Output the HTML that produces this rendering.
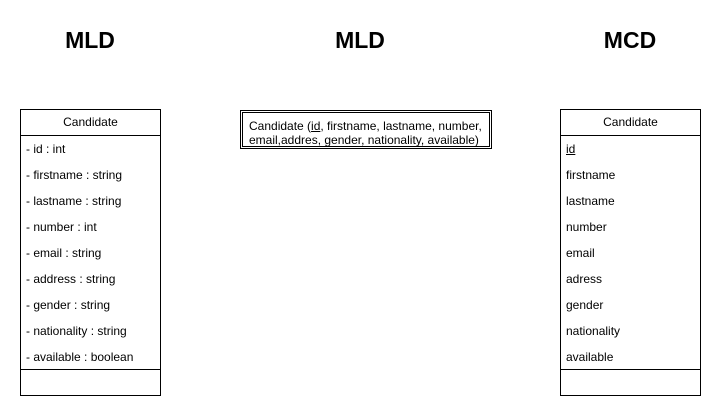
<!DOCTYPE html>
<html><head><style>
body{margin:0;width:718px;height:416px;background:#fff;font-family:"Liberation Sans",sans-serif;position:relative;overflow:hidden}
.t{position:absolute;top:26px;font-size:23px;font-weight:bold;width:140px;text-align:center;line-height:28px}
.box{position:absolute;top:109px;width:141px;height:287px;border:1px solid #000;box-sizing:border-box;font-size:12px}
.hd{height:26px;border-bottom:1px solid #000;text-align:center;line-height:25px;box-sizing:border-box}
.r{height:26px;line-height:26px;padding-left:5px}
.ft{position:absolute;left:0;right:0;top:259px;border-top:1px solid #000}
.m{position:absolute;left:240px;top:110px;width:252px;height:39px;border:1px solid #000;box-sizing:border-box;padding:1px}
.mi{border:1px solid #000;height:100%;box-sizing:border-box;font-size:12px;line-height:14px;padding:6px 0 0 6px;white-space:nowrap}
</style></head><body>
<div class="t" style="left:20px">MLD</div>
<div class="t" style="left:290px">MLD</div>
<div class="t" style="left:560px">MCD</div>
<div class="box" style="left:20px">
<div class="hd">Candidate</div>
<div class="r">- id : int</div><div class="r">- firstname : string</div><div class="r">- lastname : string</div><div class="r">- number : int</div><div class="r">- email : string</div><div class="r">- address : string</div><div class="r">- gender : string</div><div class="r">- nationality : string</div><div class="r">- available : boolean</div>
<div class="ft"></div></div>
<div class="m"><div class="mi">Candidate (<u>id</u>, firstname, lastname, number,<br>email,addres, gender, nationality, available)</div></div>
<div class="box" style="left:560px">
<div class="hd">Candidate</div>
<div class="r"><u>id</u></div><div class="r">firstname</div><div class="r">lastname</div><div class="r">number</div><div class="r">email</div><div class="r">adress</div><div class="r">gender</div><div class="r">nationality</div><div class="r">available</div>
<div class="ft"></div></div>
</body></html>
